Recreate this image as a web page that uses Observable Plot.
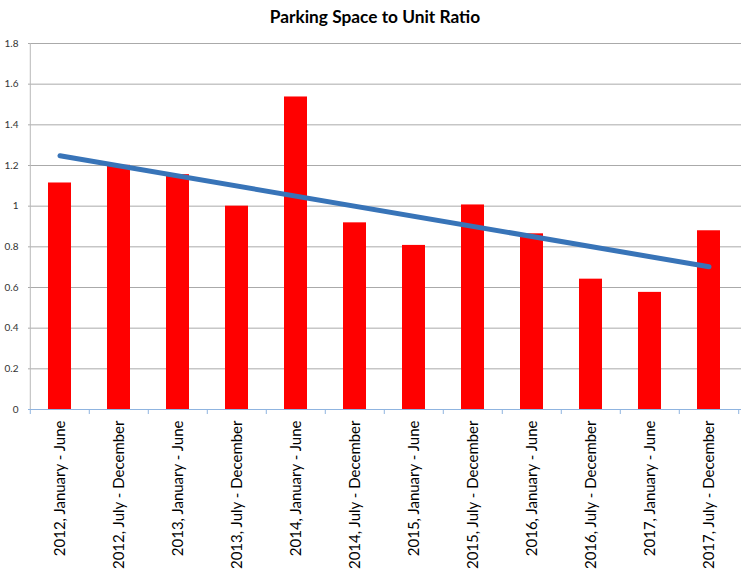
<!DOCTYPE html>
<html>
<head>
<meta charset="utf-8">
<script src="https://cdn.jsdelivr.net/npm/d3@7"></script>
<script src="https://cdn.jsdelivr.net/npm/@observablehq/plot@0.6"></script>
<style>
  html, body { margin: 0; padding: 0; background: #fff; }
  #title { height: 30px; line-height: 33px; text-align: center; font-family: Lato, "Open Sans", sans-serif; font-weight: bold; font-size: 17.3px; color: #000; }
  svg { display: block; }
</style>
</head>
<body>
<div id="title">Parking Space to Unit Ratio</div>
<div id="chart"></div>
<script>
const periods = [
  "2012, January - June", "2012, July - December",
  "2013, January - June", "2013, July - December",
  "2014, January - June", "2014, July - December",
  "2015, January - June", "2015, July - December",
  "2016, January - June", "2016, July - December",
  "2017, January - June", "2017, July - December"
];
const ratios = [1.114, 1.201, 1.155, 1.0, 1.537, 0.918, 0.807, 1.006, 0.864, 0.641, 0.576, 0.879];
const yTicks = [0, 0.2, 0.4, 0.6, 0.8, 1, 1.2, 1.4, 1.6, 1.8];

const data = periods.map((p, i) => ({period: p, ratio: ratios[i], idx: i}));

// least-squares linear trend through the bar values
const n = ratios.length;
const mx = d3.mean(data, d => d.idx), my = d3.mean(ratios);
const slope = d3.sum(data, d => (d.idx - mx) * (d.ratio - my)) / d3.sum(data, d => (d.idx - mx) ** 2);
const trend = [data[0], data[n - 1]].map(d => ({period: d.period, value: my + slope * (d.idx - mx)}));

const W = 750, H = 546;
const mL = 28, mR = 9, mT = 13, mB = 167;
const band = (W - mL - mR) / periods.length;

const chart = Plot.plot({
  width: W, height: H,
  marginLeft: mL, marginRight: mR, marginTop: mT, marginBottom: mB,
  style: {fontFamily: "Lato, 'Open Sans', sans-serif", background: "#fff"},
  x: {domain: periods, paddingInner: 0.607, paddingOuter: 0.3035, label: null},
  y: {domain: [0, 1.8], ticks: yTicks, label: null},
  marks: [
    Plot.gridY(yTicks, {stroke: "#aaaaaa", strokeOpacity: 1, strokeWidth: 1}),
    Plot.ruleX([periods[0]], {x: d => d, dx: -band / 2, stroke: "#b8b8b8"}),
    Plot.barY(data, {x: "period", y: "ratio", fill: "#ff0000"}),
    Plot.line(trend, {x: "period", y: "value", stroke: "#3874b8", strokeWidth: 5, strokeLinecap: "round"}),
    Plot.ruleY([0], {stroke: "#8fb4e0", strokeWidth: 1}),
    Plot.ruleX(periods, {x: d => d, y1: 0, y2: 0, insetBottom: -5, dx: -band / 2, stroke: "#8fb4e0"}),
    Plot.ruleX([periods[n - 1]], {x: d => d, y1: 0, y2: 0, insetBottom: -5, dx: band / 2, stroke: "#8fb4e0"}),
    Plot.axisY({ticks: yTicks, tickSize: 0, tickPadding: 10, fontSize: 10, tickFormat: d => String(d), fill: "#333"}),
    Plot.axisX({tickSize: 0, tickRotate: -90, tickPadding: 11, fontSize: 15, fill: "#000"})
  ]
});
document.getElementById("chart").appendChild(chart);
</script>
</body>
</html>
